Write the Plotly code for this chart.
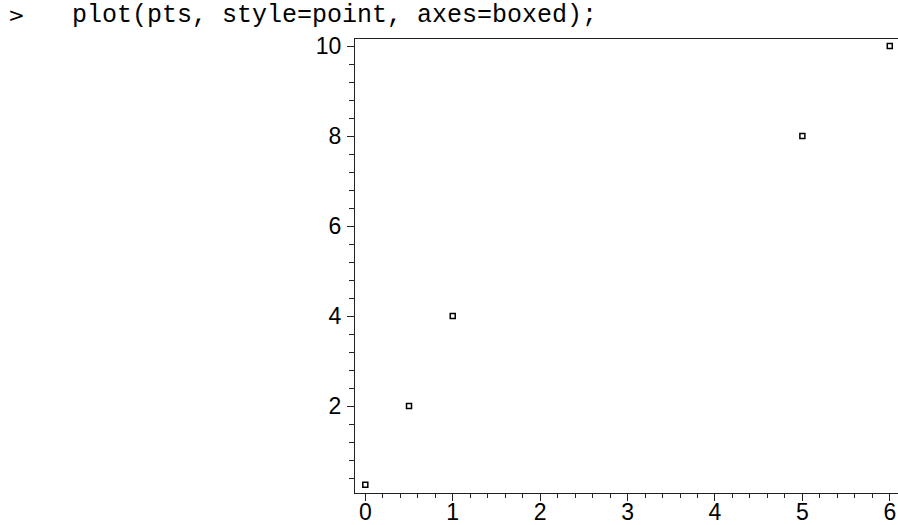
import plotly.graph_objects as go

# point data passed to plot(pts, style=point)
x_vals = [0, 0.5, 1, 5, 6]
y_vals = [0.25, 2, 4, 8, 10]

x_ticks = [0, 1, 2, 3, 4, 5, 6]
y_ticks = [2, 4, 6, 8, 10]

W, H = 898, 525
L, R, T, B = 355, 0, 39, 32
plot_w = W - L - R
plot_h = H - T - B


def px_to_paper_x(px):
    return (px - L) / plot_w


def px_to_paper_y(py):
    return (H - B - py) / plot_h


fig = go.Figure()
fig.add_trace(go.Scatter(
    x=x_vals, y=y_vals, mode="markers",
    marker=dict(symbol="square-open", size=5, color="black",
                line=dict(width=1.5, color="black")),
    hoverinfo="x+y", showlegend=False,
))

axis_font = dict(family="Liberation Sans, Arial, sans-serif", size=23, color="black")

fig.update_layout(
    width=W, height=H,
    margin=dict(l=L, r=R, t=T, b=B, pad=0, autoexpand=False),
    paper_bgcolor="white", plot_bgcolor="white",
    xaxis=dict(
        range=[-0.118, 6.094], tickvals=x_ticks, automargin=False,
        showgrid=False, zeroline=False,
        showline=True, linecolor="#222", linewidth=1.3, mirror=True,
        ticks="outside", ticklen=7, tickwidth=1.2, tickcolor="#222",
        minor=dict(dtick=0.2, tick0=0, ticks="outside", ticklen=4,
                   tickwidth=1, tickcolor="#222", showgrid=False),
        tickfont=axis_font, ticklabelstandoff=-9,
    ),
    yaxis=dict(
        range=[0.067, 10.156], tickvals=y_ticks, automargin=False,
        showgrid=False, zeroline=False,
        showline=True, linecolor="#222", linewidth=1.3, mirror=False,
        ticks="outside", ticklen=7, tickwidth=1.2, tickcolor="#222",
        minor=dict(dtick=0.4, tick0=0, ticks="outside", ticklen=5,
                   tickwidth=1, tickcolor="#222", showgrid=False),
        tickfont=axis_font, ticklabelstandoff=1,
    ),
    annotations=[
        dict(text=">", xref="paper", yref="paper",
             x=px_to_paper_x(6), y=px_to_paper_y(15),
             xanchor="left", yanchor="middle", showarrow=False,
             font=dict(family="DejaVu Sans", size=20, color="black")),
        dict(text="plot(pts, style=point, axes=boxed);",
             xref="paper", yref="paper",
             x=px_to_paper_x(70), y=px_to_paper_y(15),
             xanchor="left", yanchor="middle", showarrow=False,
             font=dict(family="Liberation Mono, Courier New, monospace",
                       size=25, color="black")),
    ],
)

fig.write_html("out.html")
